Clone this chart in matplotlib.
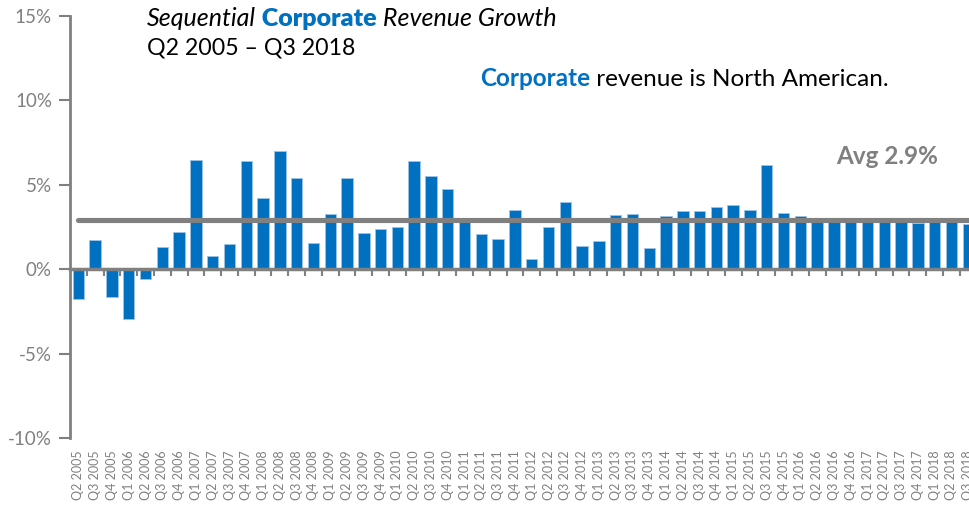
import numpy as np
import matplotlib
matplotlib.use("Agg")
import matplotlib.pyplot as plt

# quarterly sequential growth, Q2 2005 - Q3 2018
quarters = ([f"Q{q} 2005" for q in (2, 3, 4)]
            + [f"Q{q} {y}" for y in range(2006, 2018) for q in (1, 2, 3, 4)]
            + [f"Q{q} 2018" for q in (1, 2, 3)])
growth = [-1.77, 1.75, -1.63, -2.94, -0.56, 1.31, 2.18, 6.47, 0.79, 1.49,
          6.39, 4.19, 7.02, 5.40, 1.57, 3.29, 5.40, 2.16, 2.36, 2.48,
          6.39, 5.50, 4.76, 2.85, 2.10, 1.81, 3.49, 0.58, 2.48, 4.01,
          1.35, 1.69, 3.21, 3.29, 1.27, 3.13, 3.43, 3.43, 3.71, 3.79,
          3.53, 6.19, 3.30, 3.16, 2.88, 2.86, 2.86, 2.80, 2.85, 2.84,
          2.72, 2.84, 2.84, 2.66]
avg_growth = 2.9
yticks = [-10, -5, 0, 5, 10, 15]

blue = "#0070C0"
grey = "#808080"
plt.rcParams['font.family'] = ['Lato', 'DejaVu Sans']

fig = plt.figure(figsize=(9.69, 5.07), dpi=100)
n = len(growth)
ax = fig.add_axes([70 / 969, 69 / 507, n * 16.79 / 969, 422 / 507])
x = np.arange(n)

ax.bar(x, growth, width=0.68, color=blue, edgecolor="#9DC3E6", linewidth=0.6, zorder=2)
ax.plot([0, n], [avg_growth, avg_growth], color=grey, lw=3.7,
        solid_capstyle='round', zorder=3)

ax.set_xlim(-0.5, n - 0.5)
ax.set_ylim(-10, 15)
ax.set_yticks(yticks)
ax.set_yticklabels([f"{v}%" for v in yticks])
ax.tick_params(axis='y', colors=grey, labelsize=13.5, length=8, width=1.5, pad=5)

# zero line carries the category boundary ticks
ax.spines['bottom'].set_position(('data', 0))
ax.spines['bottom'].set_color(grey)
ax.spines['bottom'].set_linewidth(2.5)
ax.spines['left'].set_color(grey)
ax.spines['left'].set_linewidth(2)
ax.spines['top'].set_visible(False)
ax.spines['right'].set_visible(False)
ax.set_xticks(x[:-1] + 0.5)
ax.tick_params(axis='x', labelbottom=False, length=5, width=1.5, color=grey)

# quarter labels at the bottom
sec = ax.secondary_xaxis('bottom')
sec.set_xticks(x)
sec.set_xticklabels(quarters, rotation=90)
sec.tick_params(length=0, labelsize=9, colors=grey, pad=9)
sec.spines['bottom'].set_visible(False)

ax.text(51.2, 6.65, "Avg 2.9%", color=grey, fontsize=17.5, fontweight='bold',
        ha='right', va='center')

# title, mixed styles
t1 = fig.text(147 / 969, 1 - 26 / 507, "Sequential", fontsize=18, style='italic',
              va='baseline')
t2 = fig.text(0, 0, " Corporate", fontsize=18, fontweight='heavy', color=blue,
              va='baseline')
t3 = fig.text(0, 0, " Revenue Growth", fontsize=18, style='italic', va='baseline')
fig.text(147 / 969, 1 - 55 / 507, "Q2 2005 \u2013 Q3 2018", fontsize=16.7, va='baseline')

n1 = fig.text(480 / 969, 1 - 86 / 507, "Corporate", fontsize=17.5, fontweight='bold',
              color=blue, va='baseline')
n2 = fig.text(0, 0, " revenue is North American.", fontsize=17.5, va='baseline')

r = fig.canvas.get_renderer()
for prev, nxt in [(t1, t2), (t2, t3), (n1, n2)]:
    bb = prev.get_window_extent(r).transformed(fig.transFigure.inverted())
    nxt.set_position((bb.x1, prev.get_position()[1]))

fig.savefig("out.png", dpi=100)
